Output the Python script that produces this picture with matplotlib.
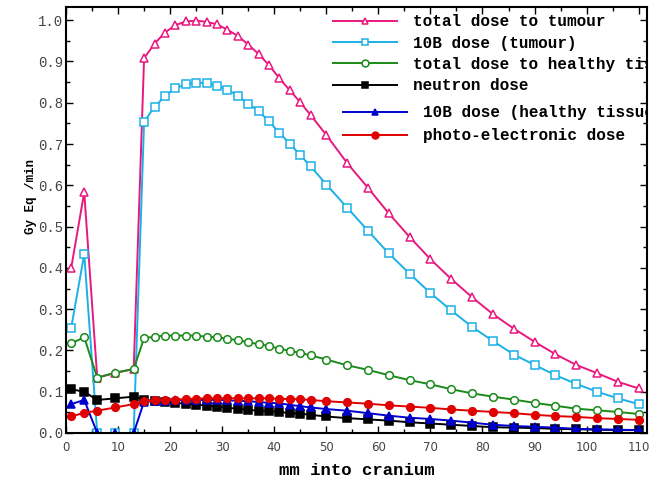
import numpy as np
import matplotlib.pyplot as plt
from matplotlib.ticker import MultipleLocator, FormatStrFormatter

# depth (mm)
depth = [1, 3.5, 6, 9.5, 13, 15, 17, 19, 21, 23, 25, 27, 29, 31, 33, 35, 37, 39,
         41, 43, 45, 47, 50, 54, 58, 62, 66, 70, 74, 78, 82, 86, 90, 94, 98,
         102, 106, 110]

total_tumour = [0.400, 0.583, 0.134, 0.146, 0.155, 0.908, 0.943, 0.970, 0.988,
                0.997, 0.999, 0.996, 0.990, 0.977, 0.962, 0.941, 0.918, 0.891,
                0.859, 0.830, 0.801, 0.770, 0.722, 0.654, 0.594, 0.532, 0.475,
                0.421, 0.373, 0.329, 0.288, 0.253, 0.221, 0.191, 0.165, 0.145,
                0.124, 0.108]
b10_tumour = [0.255, 0.433, 0.0, 0.0, 0.0, 0.754, 0.790, 0.816, 0.835, 0.845,
              0.849, 0.847, 0.841, 0.832, 0.817, 0.798, 0.780, 0.755, 0.727,
              0.701, 0.673, 0.646, 0.602, 0.546, 0.490, 0.435, 0.386, 0.339,
              0.297, 0.257, 0.223, 0.190, 0.165, 0.140, 0.119, 0.100, 0.084,
              0.070]
total_healthy = [0.217, 0.232, 0.134, 0.146, 0.155, 0.230, 0.233, 0.236, 0.236,
                 0.236, 0.236, 0.233, 0.232, 0.228, 0.225, 0.220, 0.215, 0.211,
                 0.204, 0.199, 0.194, 0.188, 0.178, 0.164, 0.153, 0.140, 0.128,
                 0.118, 0.106, 0.096, 0.088, 0.081, 0.073, 0.066, 0.059, 0.055,
                 0.051, 0.046]
neutron = [0.106, 0.100, 0.080, 0.084, 0.088, 0.081, 0.077, 0.076, 0.073,
           0.071, 0.069, 0.066, 0.064, 0.061, 0.059, 0.056, 0.054, 0.053,
           0.051, 0.048, 0.047, 0.044, 0.040, 0.036, 0.033, 0.030, 0.026,
           0.023, 0.020, 0.017, 0.014, 0.013, 0.012, 0.010, 0.009, 0.008,
           0.007, 0.007]
b10_healthy = [0.070, 0.080, 0.0, 0.0, 0.0, 0.076, 0.077, 0.078, 0.079, 0.080,
               0.080, 0.080, 0.080, 0.079, 0.078, 0.077, 0.075, 0.073, 0.072,
               0.068, 0.065, 0.062, 0.058, 0.054, 0.048, 0.042, 0.037, 0.034,
               0.030, 0.025, 0.020, 0.017, 0.015, 0.013, 0.010, 0.009, 0.008,
               0.007]
photo = [0.040, 0.049, 0.054, 0.062, 0.070, 0.077, 0.079, 0.080, 0.081, 0.082,
         0.083, 0.084, 0.084, 0.084, 0.084, 0.084, 0.084, 0.084, 0.083, 0.082,
         0.082, 0.080, 0.077, 0.074, 0.071, 0.067, 0.064, 0.061, 0.057, 0.054,
         0.051, 0.048, 0.044, 0.041, 0.039, 0.036, 0.034, 0.032]

labels = ["total dose to tumour", "10B dose (tumour)",
          "total dose to healthy tissue", "neutron dose",
          "10B dose (healthy tissue)", "photo-electronic dose"]

mono = "Liberation Mono"

fig = plt.figure(figsize=(6.57, 4.79), dpi=100)
ax = fig.add_axes([66 / 657, 1 - 433 / 479, 581 / 657, 426 / 479])

kw = dict(lw=1.4, ms=5.5, mew=1.1)
l1, = ax.plot(depth, total_tumour, '-^', color='#e8187f', mfc='white', label=labels[0], **kw)
l2, = ax.plot(depth, b10_tumour, '-s', color='#1cb0e6', mfc='white', label=labels[1], **kw)
l3, = ax.plot(depth, total_healthy, '-o', color='#1a8a1a', mfc='white', label=labels[2], **kw)
l4, = ax.plot(depth, neutron, '-s', color='black', label=labels[3], **kw)
l5, = ax.plot(depth, b10_healthy, '-^', color='#0000cc', label=labels[4], **kw)
l6, = ax.plot(depth, photo, '-o', color='#e00000', label=labels[5], **kw)

ax.set_xlim(0, 111.6)
ax.set_ylim(0, 1.032)
ax.xaxis.set_major_locator(MultipleLocator(10))
ax.xaxis.set_minor_locator(MultipleLocator(5))
ax.yaxis.set_major_locator(MultipleLocator(0.1))
ax.yaxis.set_minor_locator(MultipleLocator(0.05))
ax.yaxis.set_major_formatter(FormatStrFormatter('%.1f'))
ax.tick_params(which='both', direction='in', top=True, right=True, colors='black',
               width=1.0)
ax.tick_params(which='major', length=5)
ax.tick_params(which='minor', length=3)
ax.tick_params(axis='x', labelcolor='#444444', labelsize=8.5, pad=6)
ax.tick_params(axis='y', labelcolor='#444444', labelsize=10, pad=2)
for t in ax.get_yticklabels():
    t.set_family(mono)
for s in ax.spines.values():
    s.set_linewidth(1.5)

ax.set_xlabel("mm into cranium", family=mono, weight='bold', fontsize=12.5, labelpad=6)
ax.set_ylabel("Gy Eq /min", family=mono, weight='bold', fontsize=9, labelpad=1, y=0.556)

leg_font = {'family': mono, 'weight': 'bold', 'size': 11.5}
leg1 = ax.legend(handles=[l1, l2, l3, l4], loc='upper left', bbox_to_anchor=(0.46, 0.983),
                 frameon=False, prop=leg_font, handlelength=4.0, handletextpad=1.0,
                 borderpad=0, borderaxespad=0, labelspacing=0.4, markerscale=0.9)
ax.add_artist(leg1)
leg2 = ax.legend(handles=[l5, l6], loc='upper left', bbox_to_anchor=(0.477, 0.769),
                 frameon=False, prop=leg_font, handlelength=4.0, handletextpad=1.0,
                 borderpad=0, borderaxespad=0, labelspacing=0.5, markerscale=0.9)
for leg in (leg1, leg2):
    for t in leg.get_texts():
        t.set_clip_on(True)
        t.set_clip_box(ax.bbox)

fig.savefig("out.png", dpi=100)
